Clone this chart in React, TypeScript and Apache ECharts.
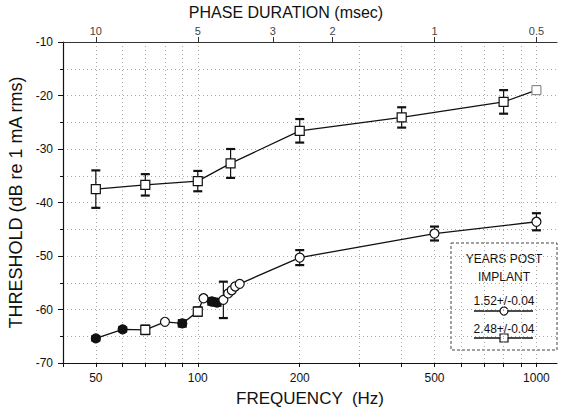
import React, { useEffect, useRef } from "react";
import * as echarts from "echarts";

// ---- data ----
// Upper curve: 2.48 +/- 0.04 years post implant (open squares)
const upperFreq = [50, 70, 100, 125, 200, 400, 800, 1000];
const upperThr = [-37.5, -36.7, -36.0, -32.7, -26.6, -24.1, -21.2, -19.0];
const upperErr = [3.5, 2.0, 1.9, 2.7, 2.2, 1.9, 2.2, 0];

// Lower curve: 1.52 +/- 0.04 years post implant (circles)
const lowerFreq = [50, 60, 70, 80, 90, 100, 104, 110, 114, 119, 123, 126, 129, 133, 200, 500, 1000];
const lowerThr = [-65.4, -63.7, -63.8, -62.3, -62.6, -60.4, -57.9, -58.5, -58.7, -58.2, -57.0, -56.4, -55.7, -55.2, -50.3, -45.8, -43.6];
const lowerErr = [0.4, 0.4, 0.8, 0, 0.6, 0.8, 0, 0.6, 0.6, 3.4, 0, 0, 0, 0, 1.4, 1.3, 1.6];
const lowerFilledIdx = [0, 1, 4, 7, 8];
const lowerSquareIdx = [2, 5];

const freqLabels = [50, 100, 200, 500, 1000];
const freqTicks = [40, 50, 60, 70, 80, 90, 100, 200, 300, 400, 500, 600, 700, 800, 900, 1000];
const phaseLabels = [10, 5, 3, 2, 1, 0.5]; // msec
const legendNames = ["1.52+/-0.04", "2.48+/-0.04"];

const FONT = "Liberation Sans, Arial, Helvetica, sans-serif";
const INK = "#111";

export default function App() {
  const ref = useRef<HTMLDivElement>(null);
  useEffect(() => {
    if (!ref.current) return;
    const chart = echarts.init(ref.current, null, { renderer: "svg" });

    const phaseFreqs = phaseLabels.map((p) => 500 / p);

    const errRender = (params: any, api: any) => {
      const x = api.value(0);
      const y = api.value(1);
      const e = api.value(2);
      if (!e) return null;
      const t = api.coord([x, y + e]);
      const b = api.coord([x, y - e]);
      const hw = 4.5;
      return {
        type: "group",
        children: [
          { type: "line", shape: { x1: t[0], y1: t[1], x2: b[0], y2: b[1] }, style: { stroke: INK, lineWidth: 1.2 } },
          { type: "line", shape: { x1: t[0] - hw, y1: t[1], x2: t[0] + hw, y2: t[1] }, style: { stroke: INK, lineWidth: 2.2 } },
          { type: "line", shape: { x1: b[0] - hw, y1: b[1], x2: b[0] + hw, y2: b[1] }, style: { stroke: INK, lineWidth: 2.2 } },
        ],
      };
    };

    const lowerData = lowerFreq.map((f, i) => {
      const filled = lowerFilledIdx.includes(i);
      const sq = lowerSquareIdx.includes(i);
      return {
        value: [f, lowerThr[i]],
        symbol: sq ? "rect" : "circle",
        itemStyle: { color: filled ? INK : "#fff", borderColor: INK, borderWidth: 1.2 },
      };
    });
    const upperData = upperFreq.map((f, i) => ({
      value: [f, upperThr[i]],
      itemStyle: i === upperFreq.length - 1 ? { color: "#fff", borderColor: "#777", borderWidth: 1 } : undefined,
    }));

    const lx = 504; // legend center
    const option: any = {
      animation: false,
      textStyle: { fontFamily: FONT },
      grid: { left: 63, right: 11, top: 42, bottom: 47, containLabel: false, outerBoundsMode: "none" },
      xAxis: [
        {
          type: "log",
          position: "bottom",
          min: 40,
          max: 1150,
          name: "FREQUENCY  (Hz)",
          nameLocation: "middle",
          nameGap: 27,
          nameTextStyle: { fontSize: 17, color: INK, fontFamily: FONT },
          axisLine: { show: true, lineStyle: { color: INK, width: 1.2 } },
          axisTick: { show: true, inside: false, length: 4, customValues: freqTicks, lineStyle: { color: INK } },
          minorTick: { show: false },
          axisLabel: {
            customValues: freqLabels,
            formatter: (v: number) => String(Math.round(v)),
            fontSize: 12,
            color: INK,
            margin: 9,
            fontFamily: FONT,
          },
          splitLine: { show: true, lineStyle: { color: "#aaa", type: [1, 3], width: 1 } },
        },
        {
          type: "log",
          position: "top",
          min: 40,
          max: 1150,
          name: "PHASE DURATION (msec)",
          nameLocation: "middle",
          nameGap: 21,
          nameTextStyle: { fontSize: 16, color: INK, fontFamily: FONT, padding: [0, 48, 0, 0] },
          axisLine: { show: true, lineStyle: { color: "#333", width: 1.2 } },
          axisTick: { show: true, inside: false, length: 5, customValues: phaseFreqs, lineStyle: { color: "#333" } },
          minorTick: { show: false },
          axisLabel: {
            customValues: phaseFreqs,
            formatter: (v: number) => String(Number((500 / v).toPrecision(2))),
            fontSize: 11,
            color: "#444",
            margin: 6,
            fontFamily: FONT,
          },
          splitLine: { show: false },
        },
      ],
      yAxis: {
        type: "value",
        min: -70,
        max: -10,
        interval: 10,
        name: "THRESHOLD (dB re 1 mA rms)",
        nameLocation: "middle",
        nameGap: 34,
        nameRotate: 90,
        nameTextStyle: { fontSize: 18, color: INK, fontFamily: FONT },
        axisLine: { show: true, lineStyle: { color: INK, width: 1.2 } },
        axisTick: { show: true, length: 5, lineStyle: { color: INK } },
        minorTick: { show: true, splitNumber: 2, length: 3, lineStyle: { color: INK } },
        axisLabel: { fontSize: 12, color: INK, margin: 10, fontFamily: FONT },
        splitLine: { show: true, lineStyle: { color: "#aaa", type: [1, 3], width: 1 } },
        minorSplitLine: { show: true, lineStyle: { color: "#aaa", type: [1, 3], width: 1 } },
      },
      series: [
        {
          type: "custom",
          name: "upperErr",
          xAxisIndex: 0,
          renderItem: errRender,
          data: upperFreq.map((f, i) => [f, upperThr[i], upperErr[i]]),
          encode: { x: 0, y: 1 },
          z: 3,
        },
        {
          type: "custom",
          name: "lowerErr",
          xAxisIndex: 0,
          renderItem: errRender,
          data: lowerFreq.map((f, i) => [f, lowerThr[i], lowerErr[i]]),
          encode: { x: 0, y: 1 },
          z: 3,
        },
        {
          type: "line",
          name: legendNames[1],
          xAxisIndex: 0,
          data: upperData,
          symbol: "rect",
          symbolSize: 9,
          showAllSymbol: true,
          lineStyle: { color: INK, width: 1.3 },
          itemStyle: { color: "#fff", borderColor: INK, borderWidth: 1.2 },
          z: 4,
        },
        {
          type: "line",
          name: legendNames[0],
          xAxisIndex: 0,
          data: lowerData,
          symbol: "circle",
          symbolSize: 9,
          showAllSymbol: true,
          lineStyle: { color: INK, width: 1.3 },
          itemStyle: { color: "#fff", borderColor: INK, borderWidth: 1.2 },
          z: 4,
        },
      ],
      graphic: [
        {
          type: "group",
          z: 10,
          children: [
            { type: "rect", shape: { x: 451, y: 243, width: 106, height: 107 }, style: { fill: "#fff", stroke: "#444", lineWidth: 1, lineDash: [3, 2] } },
            { type: "text", x: lx, y: 259, style: { text: "YEARS POST", fontSize: 12, fill: INK, align: "center", verticalAlign: "middle", fontFamily: FONT } },
            { type: "text", x: lx, y: 277, style: { text: "IMPLANT", fontSize: 12, fill: INK, align: "center", verticalAlign: "middle", fontFamily: FONT } },
            { type: "text", x: lx, y: 301, style: { text: legendNames[0], fontSize: 12, fill: INK, align: "center", verticalAlign: "middle", fontFamily: FONT } },
            { type: "line", shape: { x1: 474, y1: 311, x2: 533, y2: 311 }, style: { stroke: INK, lineWidth: 1.3 } },
            { type: "circle", shape: { cx: lx, cy: 311, r: 4 }, style: { fill: "#fff", stroke: INK, lineWidth: 1.2 } },
            { type: "text", x: lx, y: 329, style: { text: legendNames[1], fontSize: 12, fill: INK, align: "center", verticalAlign: "middle", fontFamily: FONT } },
            { type: "line", shape: { x1: 474, y1: 338, x2: 533, y2: 338 }, style: { stroke: INK, lineWidth: 1.3 } },
            { type: "rect", shape: { x: lx - 4, y: 334, width: 8, height: 8 }, style: { fill: "#fff", stroke: INK, lineWidth: 1.2 } },
          ],
        },
      ],
    };

    chart.setOption(option);
    return () => chart.dispose();
  }, []);

  return <div ref={ref} style={{ width: 568, height: 410, position: "absolute", left: 0, top: 0, background: "#fff" }} />;
}
